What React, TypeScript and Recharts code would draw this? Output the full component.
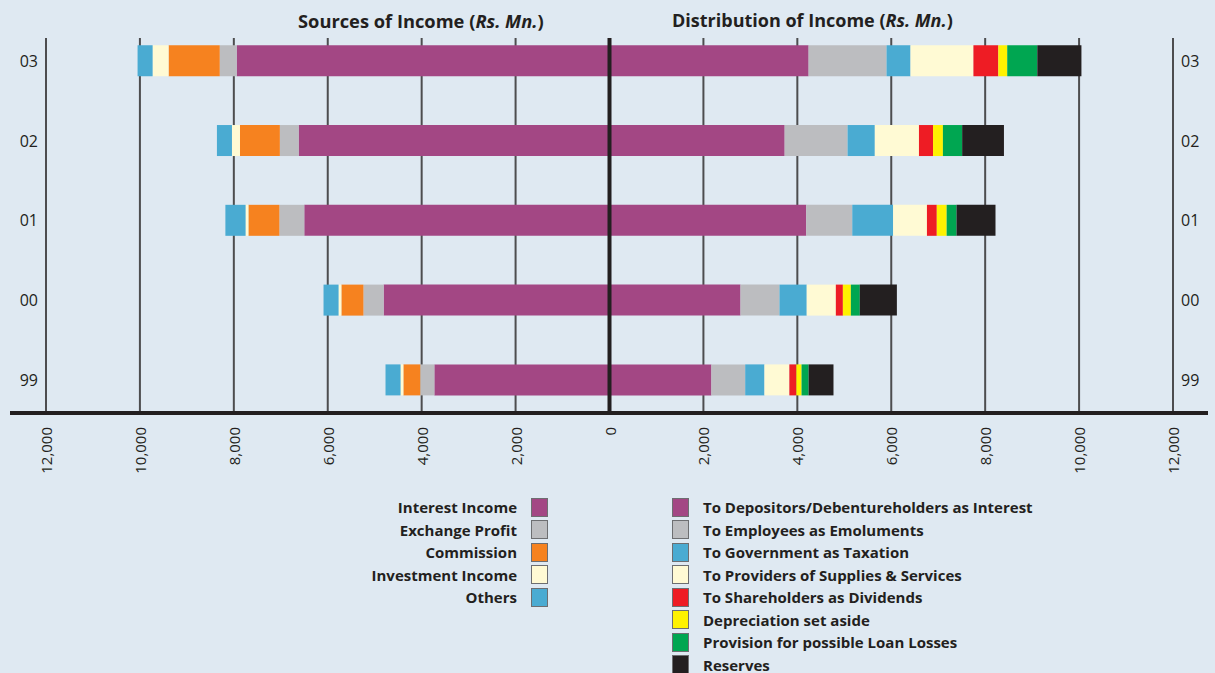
import { BarChart, Bar, XAxis, YAxis, CartesianGrid, ReferenceLine } from 'recharts';

const years = ['03', '02', '01', '00', '99'];

// Sources of income (Rs. Mn.), drawn to the left of zero
const interestIncome = [7940, 6620, 6500, 4810, 3730];
const exchangeProfit = [360, 400, 530, 430, 300];
const commission = [1090, 850, 660, 470, 360];
const investmentIncome = [340, 170, 60, 60, 60];
const others = [320, 320, 430, 320, 320];

// Distribution of income (Rs. Mn.), drawn to the right of zero
const depositors = [4240, 3730, 4190, 2790, 2170];
const employees = [1660, 1340, 980, 830, 720];
const government = [510, 580, 870, 580, 410];
const providers = [1340, 940, 720, 620, 530];
const dividends = [530, 300, 210, 150, 150];
const depreciation = [190, 210, 210, 170, 110];
const provision = [640, 410, 210, 190, 150];
const reserves = [940, 890, 830, 790, 530];

const xTicks = [-12000, -10000, -8000, -6000, -4000, -2000, 0, 2000, 4000, 6000, 8000, 10000, 12000];

const sources = [
  { key: 'interestIncome', name: 'Interest Income', color: '#a34784', values: interestIncome },
  { key: 'exchangeProfit', name: 'Exchange Profit', color: '#bcbdc0', values: exchangeProfit },
  { key: 'commission', name: 'Commission', color: '#f6821f', values: commission },
  { key: 'investmentIncome', name: 'Investment Income', color: '#fffad4', values: investmentIncome },
  { key: 'others', name: 'Others', color: '#4aabd2', values: others },
];

const distribution = [
  { key: 'depositors', name: 'To Depositors/Debentureholders as Interest', color: '#a34784', values: depositors },
  { key: 'employees', name: 'To Employees as Emoluments', color: '#bcbdc0', values: employees },
  { key: 'government', name: 'To Government as Taxation', color: '#4aabd2', values: government },
  { key: 'providers', name: 'To Providers of Supplies & Services', color: '#fffad4', values: providers },
  { key: 'dividends', name: 'To Shareholders as Dividends', color: '#ee1c24', values: dividends },
  { key: 'depreciation', name: 'Depreciation set aside', color: '#fff200', values: depreciation },
  { key: 'provision', name: 'Provision for possible Loan Losses', color: '#00a651', values: provision },
  { key: 'reserves', name: 'Reserves', color: '#231f20', values: reserves },
];

const chartData = years.map((year, i) => {
  const row: any = { pos: i, year };
  sources.forEach((s) => { row[s.key] = -s.values[i]; });
  distribution.forEach((s) => { row[s.key] = s.values[i]; });
  return row;
});

const font = '"Open Sans", "Noto Sans", sans-serif';
const ink = '#231f20';

const XTick = (props: any) => {
  const { x, y, payload } = props;
  const label = Math.abs(payload.value).toLocaleString('en-US');
  return (
    <text
      x={x}
      y={y}
      transform={`rotate(-90 ${x} ${y})`}
      textAnchor="end"
      dominantBaseline="central"
      fontFamily={font}
      fontSize={15}
      fill={ink}
    >
      {label}
    </text>
  );
};

const Swatch = ({ color }: { color: string }) => (
  <div style={{ width: 17, height: 19, background: color, border: '1px solid #6d6e71', boxSizing: 'border-box', flex: 'none' }} />
);

export default function App() {
  return (
    <div style={{ position: 'absolute', left: 0, top: 0, width: 1215, height: 673, background: '#dfe9f2', fontFamily: font, overflow: 'hidden' }}>
      <div style={{ position: 'absolute', left: 298, top: 8, fontSize: 18.3, fontWeight: 700, color: ink, whiteSpace: 'nowrap' }}>
        Sources of Income (<i>Rs. Mn.</i>)
      </div>
      <div style={{ position: 'absolute', left: 672, top: 8, fontSize: 18, fontWeight: 700, color: ink, whiteSpace: 'nowrap' }}>
        Distribution of Income (<i>Rs. Mn.</i>)
      </div>

      <BarChart
        width={1215}
        height={673}
        data={chartData}
        layout="vertical"
        stackOffset="sign"
        margin={{ top: 38, right: 0, left: 0, bottom: 200 }}
        style={{ position: 'absolute', left: 0, top: 0 }}
      >
        <CartesianGrid horizontal={false} stroke="#4d4d4f" strokeWidth={2} />
        <XAxis
          type="number"
          domain={[-12000, 12000]}
          ticks={xTicks}
          axisLine={false}
          tickLine={false}
          tick={<XTick />}
          tickMargin={8}
          height={60}
          interval={0}
        />
        <YAxis
          yAxisId="l"
          type="number"
          dataKey="pos"
          domain={[-0.29, 4.41]}
          ticks={[0, 1, 2, 3, 4]}
          tickFormatter={(i: number) => years[i]}
          axisLine={false}
          tickLine={false}
          width={46}
          tick={{ fill: ink, fontSize: 16, fontFamily: font }}
          tickMargin={2}
        />
        <YAxis
          yAxisId="r"
          orientation="right"
          type="number"
          dataKey="pos"
          domain={[-0.29, 4.41]}
          ticks={[0, 1, 2, 3, 4]}
          tickFormatter={(i: number) => years[i]}
          axisLine={false}
          tickLine={false}
          width={42}
          tick={{ fill: ink, fontSize: 16, fontFamily: font }}
          tickMargin={2}
        />
        {sources.map((s) => (
          <Bar key={s.key} yAxisId="l" dataKey={s.key} name={s.name} stackId="a" fill={s.color} barSize={31} isAnimationActive={false} />
        ))}
        {distribution.map((s) => (
          <Bar key={s.key} yAxisId="l" dataKey={s.key} name={s.name} stackId="a" fill={s.color} barSize={31} isAnimationActive={false} />
        ))}
        <ReferenceLine yAxisId="l" x={0} stroke={ink} strokeWidth={4} />
      </BarChart>

      {/* baseline of the axis */}
      <div style={{ position: 'absolute', left: 10, top: 411, width: 1198, height: 4, background: ink }} />

      {/* left legend */}
      <div style={{ position: 'absolute', left: 300, top: 496, width: 248 }}>
        {sources.map((s) => (
          <div key={s.key} style={{ display: 'flex', justifyContent: 'flex-end', alignItems: 'center', height: 22.5 }}>
            <span style={{ fontSize: 15, fontWeight: 700, color: ink, marginRight: 14, whiteSpace: 'nowrap' }}>{s.name}</span>
            <Swatch color={s.color} />
          </div>
        ))}
      </div>

      {/* right legend */}
      <div style={{ position: 'absolute', left: 672, top: 496 }}>
        {distribution.map((s) => (
          <div key={s.key} style={{ display: 'flex', alignItems: 'center', height: 22.5 }}>
            <Swatch color={s.color} />
            <span style={{ fontSize: 15, fontWeight: 700, color: ink, marginLeft: 14, whiteSpace: 'nowrap' }}>{s.name}</span>
          </div>
        ))}
      </div>
    </div>
  );
}
